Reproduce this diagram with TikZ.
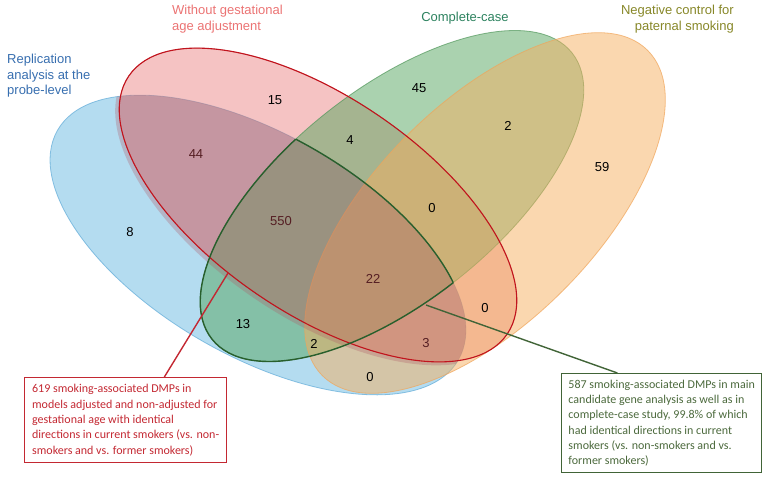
\documentclass[tikz,border=0pt]{standalone}
\usepackage{fontspec}
\setmainfont{Liberation Sans}
\newfontfamily\calibrifont{Carlito}
\usetikzlibrary{calc}
\definecolor{cblue}{RGB}{105,185,225}
\definecolor{cblueE}{RGB}{95,170,215}
\definecolor{cpink}{RGB}{235,135,135}
\definecolor{cpinkE}{RGB}{230,120,120}
\definecolor{cgreen}{RGB}{85,165,95}
\definecolor{cgreenE}{RGB}{80,150,90}
\definecolor{corange}{RGB}{245,175,95}
\definecolor{corangeE}{RGB}{240,165,90}
\definecolor{chl}{RGB}{175,90,100}
\definecolor{cred}{RGB}{192,20,30}
\definecolor{cdkgreen}{RGB}{40,95,45}
\definecolor{credbox}{RGB}{195,40,50}
\definecolor{cgrnbox}{RGB}{65,100,55}
\definecolor{cgrnboxtxt}{RGB}{75,105,60}
\definecolor{cbluetxt}{RGB}{55,110,175}
\definecolor{credtxt}{RGB}{235,115,115}
\definecolor{cgrntxt}{RGB}{45,130,95}
\definecolor{coltxt}{RGB}{135,135,40}
\definecolor{cnumd}{RGB}{85,30,35}
\begin{document}
\begin{tikzpicture}[x=1pt,y=-1pt,
  rotB/.style={rotate around={-29.8:(258,245)}},
  rotR/.style={rotate around={-34.3:(318,205)}},
  rotG/.style={rotate around={38.5:(392,196)}},
  rotO/.style={rotate around={45:(485,213)}},
  bluefill/.style={fill=cblue, fill opacity=0.5, draw=cblueE, draw opacity=0.7, line width=0.8pt},
  pinkfill/.style={fill=cpink, fill opacity=0.5, draw=cpinkE, draw opacity=0.7, line width=0.8pt},
  greenfill/.style={fill=cgreen, fill opacity=0.5, draw=cgreenE, draw opacity=0.7, line width=0.8pt},
  orangefill/.style={fill=corange, fill opacity=0.5, draw=corangeE, draw opacity=0.7, line width=0.8pt},
  hlfill/.style={fill=chl, fill opacity=0.3},
  redline/.style={draw=cred, line width=1.1pt},
  grnline/.style={draw=cdkgreen, line width=1.4pt},
  num/.style={font=\fontsize{13}{13}\selectfont, text=black, inner sep=0pt},
  numd/.style={num, text=cnumd},
  lab/.style={font=\fontsize{13}{15.5}\selectfont, inner sep=0pt},
  rbox/.style={draw=credbox, line width=1.4pt, text=credbox, align=left,
    font=\calibrifont\fontsize{12}{15.3}\selectfont, inner sep=4pt},
  gbox/.style={draw=cgrnbox, line width=1.4pt, text=cgrnboxtxt, align=left,
    font=\calibrifont\fontsize{12}{15.2}\selectfont, inner sep=4pt},
  rcall/.style={draw=credbox, line width=1.4pt},
  gcall/.style={draw=cgrnbox, line width=1.4pt}
]
\useasboundingbox (0,0) rectangle (764,477);

% set ellipses
\path[bluefill, rotB] (258,245) ellipse (231 and 111);
\path[pinkfill, rotR] (318,205) ellipse (229 and 108);
\path[greenfill, rotG] (392,196) ellipse (230 and 106);
\path[orangefill, rotO] (485,213) ellipse (230 and 110);

% highlight of red-blue overlap
\begin{scope}
  \clip[rotB] (258,245) ellipse (231 and 111);
  \fill[hlfill, rotR] (317,207) ellipse (231 and 111);
\end{scope}

% red outline
\draw[redline, rotR] (318,205) ellipse (229 and 108);

% green outline: boundary of blue and green overlap
\begin{scope}
  \clip[rotG] (392,196) ellipse (230 and 106);
  \draw[grnline, rotB] (258,245) ellipse (231 and 111);
\end{scope}
\begin{scope}
  \clip[rotB] (258,245) ellipse (231 and 111);
  \draw[grnline, rotG] (392,196) ellipse (230 and 106);
\end{scope}

% numbers
\node[num] (n8) at (130,232) {8};
\node[num] (n15) at (275,100) {15};
\node[numd] (n44) at (196,154) {44};
\node[num] (n4) at (350,140) {4};
\node[numd] (n550) at (281,221) {550};
\node[num] (n45) at (419,88) {45};
\node[num] (n2a) at (508,126) {2};
\node[num] (n59) at (602,167) {59};
\node[num] (n0a) at (432,208) {0};
\node[numd] (n22) at (373,279) {22};
\node[num] (n13) at (243,324) {13};
\node[num] (n2b) at (314,344) {2};
\node[num] (n0b) at (370,377) {0};
\node[numd] (n3) at (426,343) {3};
\node[num] (n0c) at (485,308) {0};

% set labels
\node[lab, text=cbluetxt, anchor=north west, align=left] (lblB) at (7,54) {Replication\\analysis at the\\probe-level};
\node[lab, text=credtxt, anchor=north west, align=left, font=\fontsize{13}{16}\selectfont] (lblR) at (172,5) {Without gestational\\age adjustment};
\node[lab, text=cgrntxt, anchor=north] (lblG) at (465,12) {Complete-case};
\node[lab, text=coltxt, anchor=north east, align=right, font=\fontsize{13}{16}\selectfont] (lblO) at (734,5) {Negative control for\\paternal smoking};

% callout boxes
\node[rbox, anchor=north west, minimum width=202pt, minimum height=85pt] (rb) at (24,377)
  {619 smoking-associated DMPs in\\models adjusted and non-adjusted for\\gestational age with identical\\directions in current smokers (vs. non-\\smokers and vs. former smokers)};
\node[gbox, anchor=north west, minimum width=200pt, minimum height=99pt] (gb) at (561,373)
  {587 smoking-associated DMPs in main\\candidate gene analysis as well as in\\complete-case study, 99.8\% of which\\had identical directions in current\\smokers (vs. non-smokers and vs.\\former smokers)};

% callout connectors
\coordinate (rc) at (228,273);
\coordinate (gc) at (426,305);
\draw[rcall] (rc) -- ($(rb.north west)!0.69!(rb.north east)$);
\draw[gcall] (gc) -- ($(gb.north west)!0.28!(gb.north east)$);
\end{tikzpicture}
\end{document}
